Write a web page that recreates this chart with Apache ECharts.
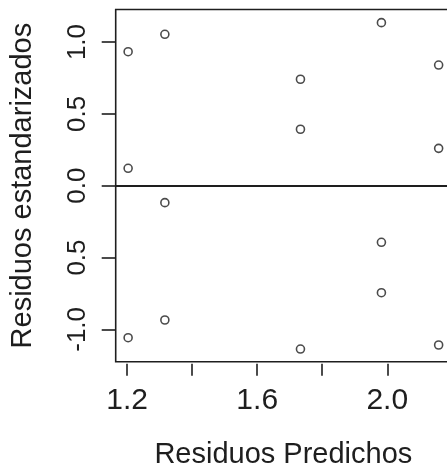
<!DOCTYPE html>
<html>
<head>
<meta charset="utf-8">
<style>
  html, body { margin: 0; padding: 0; background: #fff; }
  #chart { width: 447px; height: 468px; }
</style>
<script src="https://cdn.jsdelivr.net/npm/echarts@6/dist/echarts.min.js"></script>
</head>
<body>
<div id="chart"></div>
<script>
// Fitted values (x) and standardized residuals (y)
var predichos = [1.203, 1.203, 1.203, 1.316, 1.316, 1.316, 1.733, 1.733, 1.733, 1.982, 1.982, 1.982, 2.158, 2.158, 2.158];
var residuos  = [0.933, 0.121, -1.058, 1.054, -0.118, -0.935, 0.741, 0.393, -1.137, 1.135, -0.394, -0.745, 0.840, 0.260, -1.109];

// Axis ticks and their labels
var xTickValues  = [1.2, 1.4, 1.6, 1.8, 2.0];
var xLabelValues = [1.2, 1.6, 2.0];
var yTickValues  = [-1.0, -0.5, 0.0, 0.5, 1.0];
var yTickLabels  = ['-1.0', '0.5', '0.0', '0.5', '1.0'];

var ink = '#1e1e1e';
var points = predichos.map(function (x, i) { return [x, residuos[i]]; });

var chart = echarts.init(document.getElementById('chart'), null, { renderer: 'canvas' });
chart.setOption({
  animation: false,
  backgroundColor: '#ffffff',
  grid: {
    left: 115.7, top: 9.5, width: 335.3, height: 352.2,
    outerBoundsMode: 'none',
    containLabel: false,
    show: true, borderColor: ink, borderWidth: 1.6, backgroundColor: 'transparent'
  },
  xAxis: {
    type: 'value',
    min: 1.1648, max: 2.196,
    offset: 2,
    splitLine: { show: false },
    axisLine: { show: false, onZero: false },
    axisTick: { show: true, customValues: xTickValues, length: 12, inside: false,
                lineStyle: { color: ink, width: 1.6 } },
    axisLabel: { customValues: xLabelValues, margin: 22, color: ink,
                 fontFamily: 'Liberation Sans, Arial, sans-serif', fontSize: 30,
                 formatter: function (v) { return v.toFixed(1); } },
    name: 'Residuos Predichos',
    nameLocation: 'middle',
    nameGap: 77,
    nameTextStyle: { color: ink, fontFamily: 'Liberation Sans, Arial, sans-serif', fontSize: 29 }
  },
  yAxis: {
    type: 'value',
    min: -1.2252, max: 1.2266,
    splitLine: { show: false },
    axisLine: { show: false, onZero: false },
    axisTick: { show: true, customValues: yTickValues, length: 14,
                lineStyle: { color: ink, width: 1.6 } },
    axisLabel: { customValues: yTickValues, rotate: 90, margin: 25, color: ink,
                 fontFamily: 'Liberation Sans, Arial, sans-serif', fontSize: 26,
                 formatter: function (v) {
                   var k = yTickValues.indexOf(Math.round(v * 10) / 10);
                   return k >= 0 ? yTickLabels[k] : '';
                 } },
    name: 'Residuos estandarizados',
    nameLocation: 'middle',
    nameGap: 78,
    nameTextStyle: { color: ink, fontFamily: 'Liberation Sans, Arial, sans-serif', fontSize: 29 }
  },
  series: [{
    type: 'scatter',
    data: points,
    symbol: 'circle',
    symbolSize: 8,
    itemStyle: { color: 'rgba(255,255,255,0)', borderColor: ink, borderWidth: 1.6 },
    emphasis: { disabled: true },
    markLine: {
      silent: true,
      symbol: ['none', 'none'],
      label: { show: false },
      lineStyle: { color: ink, width: 2, type: 'solid' },
      data: [{ yAxis: 0 }]
    }
  }]
});
</script>
</body>
</html>
